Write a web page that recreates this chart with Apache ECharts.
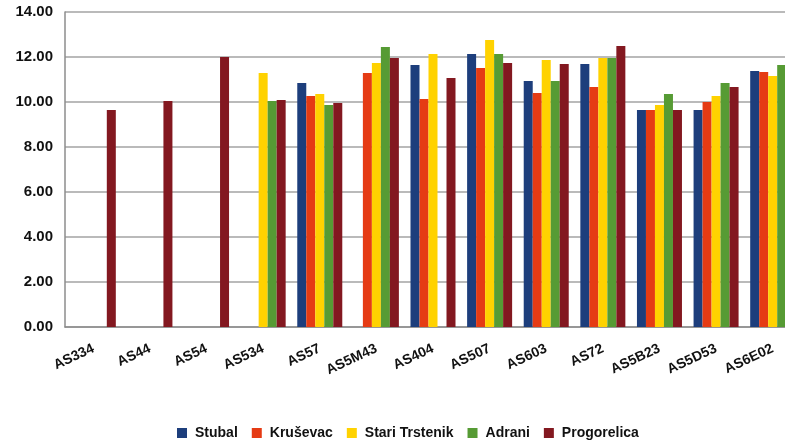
<!DOCTYPE html>
<html>
<head>
<meta charset="utf-8">
<script src="https://cdn.jsdelivr.net/npm/echarts@6/dist/echarts.min.js"></script>
<style>
  html, body { margin: 0; padding: 0; background: #fff; }
  #chart { width: 785px; height: 445px; }
</style>
</head>
<body>
<div id="chart"></div>
<script>
const categories = ["AS334", "AS44", "AS54", "AS534", "AS57", "AS5M43", "AS404", "AS507", "AS603", "AS72", "AS5B23", "AS5D53", "AS6E02"];
const stubal = [null, null, null, null, 10.84, null, 11.64, 12.13, 10.93, 11.69, 9.64, 9.64, 11.38];
const krusevac = [null, null, null, null, 10.27, 11.29, 10.13, 11.51, 10.40, 10.67, 9.64, 10.00, 11.33];
const stariTrstenik = [null, null, null, 11.29, 10.36, 11.73, 12.13, 12.76, 11.87, 11.96, 9.87, 10.27, 11.16];
const adrani = [null, null, null, 10.04, 9.87, 12.44, null, 12.13, 10.93, 11.96, 10.36, 10.84, 11.64];
const progorelica = [9.64, 10.04, 12.00, 10.09, 9.96, 11.96, 11.07, 11.73, 11.69, 12.49, 9.64, 10.67, null];

const chart = echarts.init(document.getElementById("chart"));

function bar(name, data, color) {
  return {
    name: name,
    type: "bar",
    data: data,
    barGap: "0%",
    barCategoryGap: "20.5%",
    itemStyle: { color: color },
  };
}

const option = {
  backgroundColor: "#fff",
  animation: false,
  textStyle: { fontFamily: "Liberation Sans, Arial, sans-serif" },
  grid: {
    left: 65,
    top: 12,
    width: 736,
    height: 315,
    containLabel: false,
    outerBoundsMode: "none",
  },
  legend: {
    bottom: 0,
    left: 172,
    itemWidth: 10,
    itemHeight: 10,
    itemGap: 14,
    icon: "rect",
    textStyle: { fontSize: 14, fontWeight: "bold", color: "#111", padding: [0, 0, 0, 3] },
  },
  xAxis: {
    type: "category",
    data: categories,
    axisTick: { show: false },
    axisLine: { lineStyle: { color: "#8c8c8c", width: 1.5 } },
    axisLabel: {
      rotate: 25,
      interval: 0,
      margin: 21,
      fontSize: 14,
      fontWeight: "bold",
      color: "#111",
    },
  },
  yAxis: {
    type: "value",
    min: 0,
    max: 14,
    interval: 2,
    axisLine: { show: true, lineStyle: { color: "#8c8c8c", width: 1.5 } },
    axisTick: { show: false },
    splitLine: { lineStyle: { color: "#a3a3a3", width: 1.5 } },
    axisLabel: {
      formatter: (v) => v.toFixed(2),
      fontSize: 15,
      fontWeight: "bold",
      color: "#111",
      margin: 12,
    },
  },
  series: [
    bar("Stubal", stubal, "#1d3e7c"),
    bar("Kruševac", krusevac, "#e53b14"),
    bar("Stari Trstenik", stariTrstenik, "#ffd200"),
    bar("Adrani", adrani, "#569b34"),
    bar("Progorelica", progorelica, "#831820"),
  ],
};
chart.setOption(option, true);
</script>
</body>
</html>
